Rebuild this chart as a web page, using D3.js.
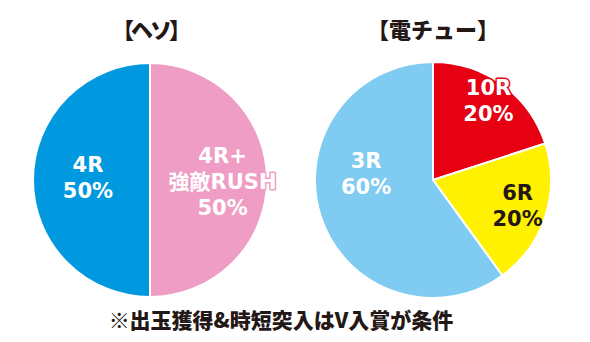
<!DOCTYPE html>
<html><head><meta charset="utf-8">
<script src="https://cdn.jsdelivr.net/npm/d3@7"></script>
<style>
html,body{margin:0;padding:0;background:#fff;}
svg{display:block;}
</style></head>
<body>
<script>
// ---- data ----
const chartTitles = ["【ヘソ】", "【電チュー】"];
const hesoLabels = [["4R+", "強敵RUSH"], ["4R"]];
const hesoValues = [50, 50];
const denchuLabels = [["10R"], ["6R"], ["3R"]];
const denchuValues = [20, 20, 60];
const footnote = "※出玉獲得&時短突入はV入賞が条件";

// ---- styles / layout ----
const W = 590, H = 342;
const hesoColors = ["#ef9dc4", "#0099e0"];
const denchuColors = ["#e60012", "#fff100", "#7fcbf1"];
const hesoText = [{fill:"#fff", stroke:"#ef9dc4"}, {fill:"#fff", stroke:"#0099e0"}];
const denchuText = [{fill:"#fff", stroke:"#e60012"}, {fill:"#231815", stroke:"none"}, {fill:"#fff", stroke:"#7fcbf1"}];
// label placement: radius factor and angle (deg from 12 o'clock, clockwise)
const hesoLabelPos = [{r:0.62, a:90, dy:1}, {r:0.53, a:270, dy:-3}];
const denchuLabelPos = [{r:0.82, a:35}, {r:0.75, a:107}, {r:0.57, a:276}];

const svg = d3.select("body").append("svg").attr("width", W).attr("height", H);

function drawPie(cx, cy, R, title, values, labels, colors, textStyles, labelPos, titleSpacing) {
  const g = svg.append("g").attr("transform", `translate(${cx},${cy})`);
  const pie = d3.pie().sort(null).value(d => d);
  const arcs = pie(values);
  const arc = d3.arc().innerRadius(0).outerRadius(R);
  g.selectAll("path").data(arcs).join("path")
    .attr("d", arc)
    .attr("fill", (d, i) => colors[i])
    .attr("stroke", "#fff")
    .attr("stroke-width", 2)
    .attr("stroke-linejoin", "round");

  arcs.forEach((d, i) => {
    const p = labelPos[i];
    const ang = p.a * Math.PI / 180;
    const x = Math.sin(ang) * R * p.r;
    const y = -Math.cos(ang) * R * p.r + (p.dy || 0);
    const lines = labels[i].concat([d3.format(".0f")(d.value) + "%"]);
    const lh = 26;
    const t = g.append("text")
      .attr("text-anchor", "middle")
      .attr("font-family", "'DejaVu Sans', 'Noto Sans CJK JP', sans-serif")
      .attr("font-weight", "bold")
      .attr("font-size", 21)
      .attr("fill", textStyles[i].fill)
      .attr("stroke", textStyles[i].stroke)
      .attr("stroke-width", textStyles[i].stroke === "none" ? 0 : 3)
      .attr("paint-order", "stroke")
      .attr("stroke-linejoin", "round");
    lines.forEach((ln, k) => {
      t.append("tspan")
        .attr("x", x)
        .attr("y", y + (k - (lines.length - 1) / 2) * lh)
        .attr("dy", "0.36em")
        .text(ln);
    });
  });

  svg.append("text")
    .attr("x", cx).attr("y", 30)
    .attr("text-anchor", "middle")
    .attr("dy", "0.36em")
    .attr("font-family", "'Noto Sans CJK JP', sans-serif")
    .attr("font-weight", "900")
    .attr("font-size", 22)
    .attr("letter-spacing", titleSpacing)
    .attr("fill", "#231815")
    .text(title);
}

drawPie(150, 180, 117, chartTitles[0], hesoValues, hesoLabels, hesoColors, hesoText, hesoLabelPos, -3);
drawPie(433, 180, 118, chartTitles[1], denchuValues, denchuLabels, denchuColors, denchuText, denchuLabelPos, 0);

svg.append("text")
  .attr("x", 281).attr("y", 320)
  .attr("text-anchor", "middle")
  .attr("dy", "0.36em")
  .attr("font-family", "'Noto Sans CJK JP', sans-serif")
  .attr("font-weight", "900")
  .attr("font-size", 21)
  .attr("fill", "#231815")
  .text(footnote);
</script>
</body></html>
